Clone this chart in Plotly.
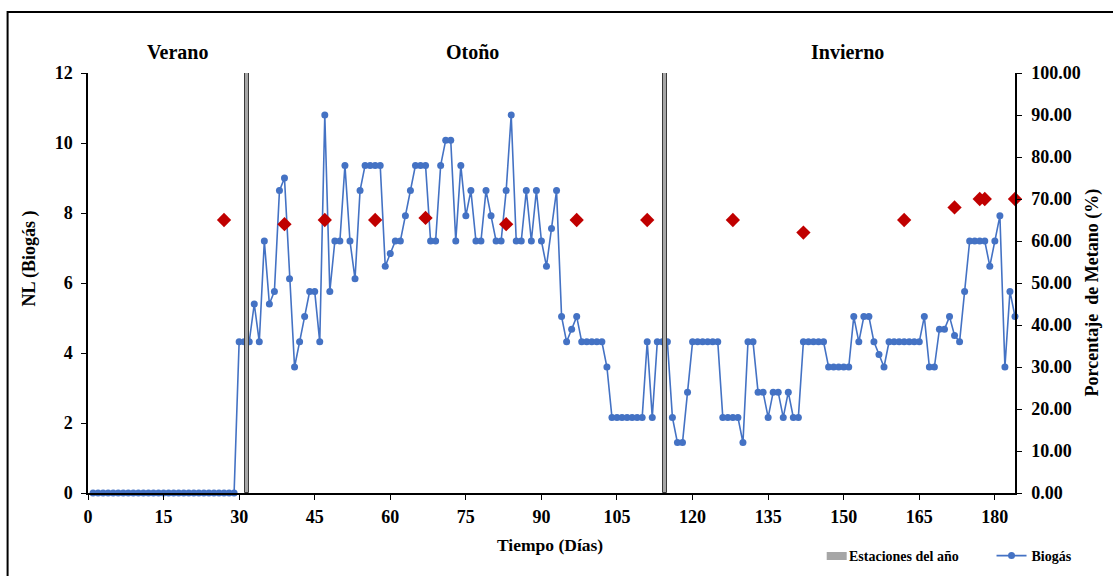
import plotly.graph_objects as go

days = list(range(1, 185))
biogas_nl = [
    0, 0, 0, 0, 0, 0, 0, 0, 0, 0, 0, 0, 0, 0, 0, 0, 0, 0, 0, 0, 0, 0, 0, 0, 0, 0, 0, 0, 0,
    4.32, 4.32, 4.32, 5.4, 4.32, 7.2, 5.4, 5.76, 8.64, 9.0,
    6.12, 3.6, 4.32, 5.04, 5.76, 5.76, 4.32, 10.8, 5.76, 7.2,
    7.2, 9.36, 7.2, 6.12, 8.64, 9.36, 9.36, 9.36, 9.36, 6.48,
    6.84, 7.2, 7.2, 7.92, 8.64, 9.36, 9.36, 9.36, 7.2, 7.2,
    9.36, 10.08, 10.08, 7.2, 9.36, 7.92, 8.64, 7.2, 7.2, 8.64,
    7.92, 7.2, 7.2, 8.64, 10.8, 7.2, 7.2, 8.64, 7.2, 8.64,
    7.2, 6.48, 7.56, 8.64, 5.04, 4.32, 4.68, 5.04, 4.32, 4.32,
    4.32, 4.32, 4.32, 3.6, 2.16, 2.16, 2.16, 2.16, 2.16, 2.16,
    2.16, 4.32, 2.16, 4.32, 4.32, 4.32, 2.16, 1.44, 1.44, 2.88,
    4.32, 4.32, 4.32, 4.32, 4.32, 4.32, 2.16, 2.16, 2.16, 2.16,
    1.44, 4.32, 4.32, 2.88, 2.88, 2.16, 2.88, 2.88, 2.16, 2.88,
    2.16, 2.16, 4.32, 4.32, 4.32, 4.32, 4.32, 3.6, 3.6, 3.6,
    3.6, 3.6, 5.04, 4.32, 5.04, 5.04, 4.32, 3.96, 3.6, 4.32,
    4.32, 4.32, 4.32, 4.32, 4.32, 4.32, 5.04, 3.6, 3.6, 4.68,
    4.68, 5.04, 4.5, 4.32, 5.76, 7.2, 7.2, 7.2, 7.2, 6.48,
    7.2, 7.92, 3.6, 5.76, 5.04,
]

metano_days = [27, 39, 47, 57, 67, 83, 97, 111, 128, 142, 162, 172, 177, 178, 184]
metano_pct = [65, 64, 65, 65, 65.5, 64, 65, 65, 65, 62, 65, 68, 70, 70, 70]

season_days = [31.5, 114.5]
season_vals = [100, 100]
season_names = ["Verano", "Otoño", "Invierno"]
season_label_days = [17.7, 76.4, 150.7]

x_ticks = list(range(0, 181, 15))
y_ticks = list(range(0, 13, 2))
y2_ticks = list(range(0, 101, 10))

FONT = "Liberation Serif, Times New Roman, serif"
W, H = 1113, 576
L, R, T, B = 87.5, 1015.5, 73, 493

def px2paper_x(px):
    return (px - L) / (R - L)

def px2paper_y(py):
    return (B - py) / (B - T)

fig = go.Figure()

fig.add_trace(go.Bar(
    x=season_days, y=season_vals, yaxis="y2", width=0.75,
    name="Estaciones del año", showlegend=False,
    marker=dict(color="#A6A6A6", line=dict(color="#3A3A3A", width=1)),
    hoverinfo="skip",
))

fig.add_trace(go.Scatter(
    x=days, y=biogas_nl, mode="lines+markers", name="Biogás",
    line=dict(color="#4472C4", width=1.6),
    marker=dict(color="#4472C4", size=7),
    cliponaxis=False,
))

fig.add_trace(go.Scatter(
    x=metano_days, y=metano_pct, yaxis="y2", mode="markers",
    name="Metano", showlegend=False,
    marker=dict(symbol="diamond", color="#C00000", size=11),
    cliponaxis=False,
))

axis_font = dict(family=FONT, size=18, color="black", weight="bold")
bold = lambda s: dict(family=FONT, size=s, color="black", weight="bold")

for name, d in zip(season_names, season_label_days):
    fig.add_annotation(x=d, xref="x", y=px2paper_y(52), yref="paper",
                       xanchor="center", yanchor="middle",
                       text=name, showarrow=False, font=bold(20))

fig.add_annotation(x=px2paper_x(28), xref="paper", y=px2paper_y(259), yref="paper",
                   xanchor="center", yanchor="middle",
                   text="NL (Biogás )", textangle=-90, showarrow=False, font=bold(18))
fig.add_annotation(x=px2paper_x(1093), xref="paper", y=px2paper_y(292), yref="paper",
                   xanchor="center", yanchor="middle",
                   text="Porcentaje  de Metano (%)", textangle=-90, showarrow=False,
                   font=bold(18))
fig.add_annotation(x=px2paper_x(550), xref="paper", y=px2paper_y(545), yref="paper",
                   xanchor="center", yanchor="middle",
                   text="Tiempo (Días)", showarrow=False, font=bold(17.5))

# legend entry for the season bars (wide flat swatch as in the original)
fig.add_shape(type="rect", xref="paper", yref="paper",
              x0=px2paper_x(827), x1=px2paper_x(847), y0=px2paper_y(560), y1=px2paper_y(552),
              line=dict(width=0), fillcolor="#A6A6A6")
fig.add_annotation(x=px2paper_x(847), xref="paper", y=px2paper_y(556), yref="paper",
                   xanchor="left", yanchor="middle",
                   text="Estaciones del año", showarrow=False, font=bold(14))

fig.add_shape(type="rect", xref="paper", yref="paper",
              x0=px2paper_x(7), x1=px2paper_x(1130), y0=px2paper_y(600), y1=px2paper_y(12),
              line=dict(color="black", width=2), fillcolor="rgba(0,0,0,0)", layer="below")

fig.update_layout(
    width=W, height=H,
    margin=dict(l=L, r=W - R, t=T, b=H - B, pad=0, autoexpand=False),
    paper_bgcolor="white", plot_bgcolor="white",
    font=dict(family=FONT, color="black"),
    bargap=0,
    xaxis=dict(range=[0, 184], tickvals=x_ticks, ticks="outside", ticklen=5,
               tickwidth=1.2, tickcolor="black", showline=True, linecolor="black",
               linewidth=1.5, showgrid=False, zeroline=False, tickfont=axis_font,
               ticklabelstandoff=2),
    yaxis=dict(range=[0, 12], tickvals=y_ticks, ticks="outside", ticklen=5,
               tickwidth=1.2, tickcolor="black", showline=True, linecolor="black",
               linewidth=1.5, showgrid=False, zeroline=False, tickfont=axis_font,
               ticklabelstandoff=5),
    yaxis2=dict(range=[0, 100], tickvals=y2_ticks, tickformat=".2f", overlaying="y",
                side="right", ticks="outside", ticklen=5, tickwidth=1.2,
                tickcolor="black", showline=True, linecolor="black", linewidth=1.5,
                showgrid=False, zeroline=False, tickfont=axis_font,
                ticklabelstandoff=6),
    legend=dict(x=px2paper_x(992), y=px2paper_y(556), xanchor="left", yanchor="middle",
                orientation="h", bgcolor="rgba(0,0,0,0)", font=bold(14)),
    showlegend=True,
)

fig.write_html("out.html", config={"displayModeBar": False},
               post_script="document.body.style.margin='0';document.body.style.overflow='hidden';")
